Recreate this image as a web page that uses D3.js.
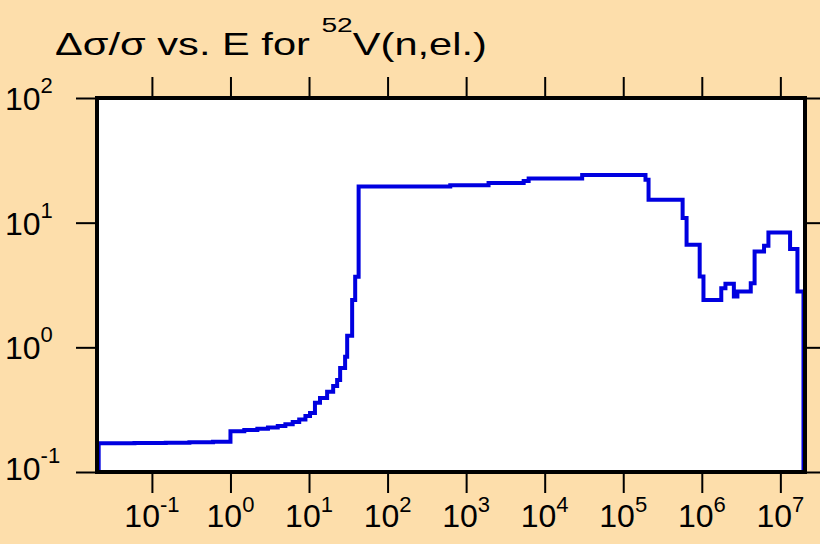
<!DOCTYPE html>
<html>
<head>
<meta charset="utf-8">
<script src="https://cdn.jsdelivr.net/npm/d3@7"></script>
<style>
  body { margin: 0; background: #fddeab; }
  svg { display: block; font-family: "Liberation Sans", Arial, Helvetica, sans-serif; }
</style>
</head>
<body>
<div id="chart"></div>
<script>
// bin edges (eV) and relative uncertainty for each bin
var energyEdges = [0.021, 0.06, 0.15, 0.3, 0.6, 1.0, 1.5, 2.2, 3.0, 4.0, 5.0, 6.2, 7.5, 9.0, 10.3, 11.9, 13.8,
  17, 20.3, 22.8, 24.9, 28.8, 30.6, 35.4, 38.7, 42.8, 628, 1930, 5400, 6250, 3.0e4, 1.92e5, 2.1e5, 5.7e5,
  6.4e5, 9.4e5, 1.05e6, 1.77e6, 2.0e6, 2.56e6, 2.84e6, 4.2e6, 4.7e6, 6.2e6, 7.05e6, 1.33e7, 1.65e7, 1.97e7];
var ratioValues = [0.170, 0.171, 0.172, 0.173, 0.175, 0.212, 0.217, 0.222, 0.228, 0.234, 0.242, 0.252, 0.264,
  0.281, 0.298, 0.359, 0.393, 0.44, 0.49, 0.548, 0.684, 0.839, 1.24, 2.40, 3.68, 19.5, 20.0, 20.8, 21.6, 22.6,
  24.1, 22.1, 15.3, 10.9, 6.65, 3.70, 2.40, 2.98, 3.23, 2.56, 2.81, 3.27, 5.87, 6.53, 8.34, 6.14, 2.81];

var xTickExp = [-1, 0, 1, 2, 3, 4, 5, 6, 7];
var yTickExp = [-1, 0, 1, 2];

var W = 820, H = 544;
var plotL = 97, plotR = 805, plotT = 98, plotB = 472;

var svg = d3.select("#chart").append("svg")
  .attr("width", W)
  .attr("height", H);

svg.append("rect")
  .attr("width", W).attr("height", H)
  .attr("fill", "#fddeab");

var x = d3.scaleLog().domain([0.02, 2e7]).range([plotL, 804]);
var y = d3.scaleLog().domain([0.1, 100]).range([plotB, plotT]);

// plot area
svg.append("rect")
  .attr("x", plotL).attr("y", plotT)
  .attr("width", plotR - plotL).attr("height", plotB - plotT)
  .attr("fill", "white");

// step line, dropping to the bottom at both ends
var pts = [[energyEdges[0], 0.1]];
ratioValues.forEach(function(v, i) { pts.push([energyEdges[i], v]); });
pts.push([energyEdges[energyEdges.length - 1], ratioValues[ratioValues.length - 1]]);
pts.push([energyEdges[energyEdges.length - 1], 0.1]);

var line = d3.line()
  .x(d => x(d[0]))
  .y(d => y(d[1]))
  .curve(d3.curveStepAfter);

svg.append("path")
  .datum(pts)
  .attr("d", line)
  .attr("fill", "none")
  .attr("stroke", "#0000e0")
  .attr("stroke-width", 4)
  .attr("stroke-linejoin", "miter");

// ticks
var xVals = xTickExp.map(e => Math.pow(10, e));
var yVals = yTickExp.map(e => Math.pow(10, e));

function styleAxis(g) {
  g.select(".domain").remove();
  g.selectAll(".tick line").attr("stroke", "black").attr("stroke-width", 2);
  g.selectAll(".tick text").remove();
}

svg.append("g").attr("transform", `translate(0,${plotB})`)
  .call(d3.axisBottom(x).tickValues(xVals).tickSize(21).tickFormat(""))
  .call(styleAxis);
svg.append("g").attr("transform", `translate(0,${plotT})`)
  .call(d3.axisTop(x).tickValues(xVals).tickSize(21).tickFormat(""))
  .call(styleAxis);
svg.append("g").attr("transform", `translate(${plotL},0)`)
  .call(d3.axisLeft(y).tickValues(yVals).tickSize(21).tickFormat(""))
  .call(styleAxis);
svg.append("g").attr("transform", `translate(${plotR},0)`)
  .call(d3.axisRight(y).tickValues(yVals).tickSize(16).tickFormat(""))
  .call(styleAxis);

// frame
svg.append("rect")
  .attr("x", plotL).attr("y", plotT)
  .attr("width", plotR - plotL).attr("height", plotB - plotT)
  .attr("fill", "none")
  .attr("stroke", "black")
  .attr("stroke-width", 4);

// x labels
xTickExp.forEach(function(e) {
  var t = svg.append("text")
    .attr("x", x(Math.pow(10, e)))
    .attr("y", 527)
    .attr("text-anchor", "middle")
    .attr("font-size", 32);
  t.append("tspan").text("10");
  t.append("tspan").attr("dy", -15).attr("font-size", 22).text(e);
});

// y labels
yTickExp.forEach(function(e) {
  var t = svg.append("text")
    .attr("x", 5)
    .attr("y", Math.min(y(Math.pow(10, e)) + 12, 480))
    .attr("font-size", 32);
  t.append("tspan").text("10");
  t.append("tspan").attr("dy", -17).attr("font-size", 22).text(e);
});

// title (reference glyphs are drawn wider, so stretch to its width)
var titleG = svg.append("g");
var title = titleG.append("text")
  .attr("x", 0)
  .attr("y", 0)
  .attr("font-size", 31);
title.append("tspan").text("\u0394\u03c3/\u03c3 vs. E for ");
title.append("tspan").attr("dy", -23).attr("font-size", 21).text("52");
title.append("tspan").attr("dy", 23).text("V(n,el.)");
var tb = title.node().getBBox();
var sx = 432 / tb.width;
titleG.attr("transform", `translate(${55 - tb.x * sx},55) scale(${sx},1)`);
</script>
</body>
</html>
